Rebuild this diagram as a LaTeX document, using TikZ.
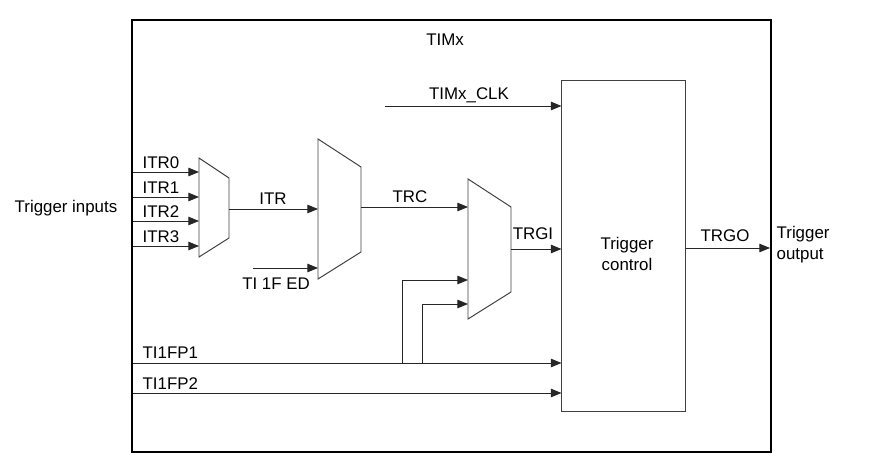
\documentclass[tikz,border=0pt]{standalone}
\usepackage{fontspec}
\setmainfont{Liberation Sans}
\usetikzlibrary{arrows.meta}

\begin{document}
\begin{tikzpicture}[x=0.025cm, y=-0.025cm,
  every node/.style = {font=\fontsize{12}{15}\selectfont, inner sep=1pt},
  wire/.style = {draw=black!85, line width=0.7pt},
  sig/.style = {wire, -{Triangle[length=7.5pt,width=6pt]}},
  mux/.style = {draw=black!75, line width=0.7pt, line join=miter},
  lbl/.style = {anchor=base}]
  \useasboundingbox (0,0) rectangle (874,464);

  % TIMx frame
  \draw[line width=1.5pt] (132,20) rectangle (771,452);
  \node (timx) at (445,40) {TIMx};
  \coordinate (outr) at (770,248);

  % trigger control block
  \node[draw=black!75, line width=0.7pt, minimum width=3.075cm,
    minimum height=8.25cm] (ctl) at (623.5,246) {};
  \node[align=center] (ctltxt) at (627,254) {Trigger\\control};

  % multiplexers
  \draw[mux] (199,158) -- (229,178) -- (229,238) -- (199,257) -- cycle;
  \draw[mux] (318,139) -- (361,167) -- (361,252) -- (318,279) -- cycle;
  \draw[mux] (468,179) -- (511,207) -- (511,292) -- (468,319) -- cycle;
  \coordinate (m1out) at (229,209);
  \coordinate (m2a) at (318,209);
  \coordinate (m2b) at (318,268);
  \coordinate (m2out) at (361,207);
  \coordinate (m3a) at (468,207);
  \coordinate (m3b) at (468,280);
  \coordinate (m3c) at (468,304);
  \coordinate (m3out) at (511,249);

  % internal trigger inputs
  \node (trigin) at (66,208) {Trigger inputs};
  \foreach \y/\t in {172/0,197/1,221/2,246/3} {
    \coordinate (itr\t) at (133,\y);
    \draw[sig] (itr\t) -- (199,\y);
    \node[anchor=base west] (itrlbl\t) at (141,\y-3) {ITR\t};
  }

  \draw[sig] (m1out) -- (m2a);
  \node[lbl] (itrlbl) at (273,205) {ITR};

  \coordinate (tied) at (253,268);
  \draw[sig] (tied) -- (m2b);
  \node[lbl] (tiedlbl) at (276,290) {TI 1F ED};

  \draw[sig] (m2out) -- (m3a);
  \node[lbl] (trclbl) at (410,203) {TRC};

  \draw[sig] (m3out) -- (m3out -| ctl.west);
  \node[lbl] (trgilbl) at (533,240) {TRGI};

  % clock
  \coordinate (clk) at (385,106);
  \draw[sig] (clk) -- (clk -| ctl.west);
  \node[lbl] (clklbl) at (469,100) {TIMx\_CLK};

  % external inputs
  \coordinate (fp1) at (133,363);
  \coordinate (fp2) at (133,393);
  \coordinate (tap1) at (402,363);
  \coordinate (tap2) at (422,363);
  \draw[sig] (fp1) -- (fp1 -| ctl.west);
  \draw[sig] (fp2) -- (fp2 -| ctl.west);
  \draw[sig] (tap1) |- (m3b);
  \draw[sig] (tap2) |- (m3c);
  \node[anchor=base west] (fp1lbl) at (141,359) {TI1FP1};
  \node[anchor=base west] (fp2lbl) at (141,390) {TI1FP2};

  % trigger output
  \draw[sig] (outr -| ctl.east) -- (outr);
  \node[lbl] (trgolbl) at (725,242) {TRGO};
  \node[align=left, anchor=west] (trigout) at (775,245) {Trigger\\output};
\end{tikzpicture}
\end{document}
